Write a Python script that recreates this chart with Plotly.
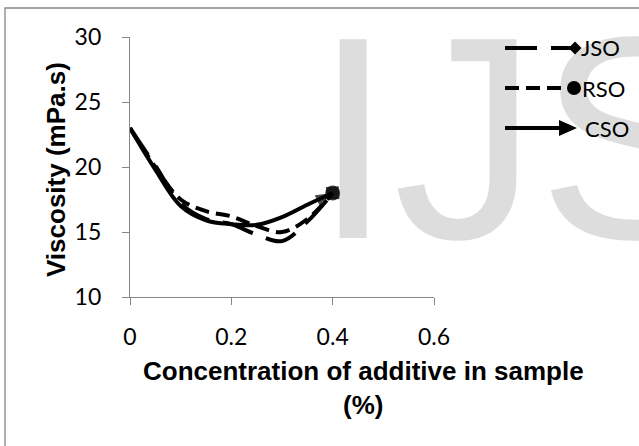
import plotly.graph_objects as go

# ---------------- data ----------------
conc = [0, 0.05, 0.1, 0.15, 0.2, 0.25, 0.3, 0.35, 0.4]
jso = [23.0, 20.1, 17.2, 16.0, 15.6, 14.8, 14.3, 15.8, 18.0]
rso = [23.0, 20.0, 17.5, 16.6, 16.2, 15.45, 15.0, 16.0, 18.0]
cso = [23.0, 19.8, 17.0, 15.9, 15.6, 15.55, 16.15, 17.1, 18.0]
series_names = ["JSO", "RSO", "CSO"]
x_tick_vals = [0, 0.2, 0.4, 0.6]
x_tick_text = ["0", "0.2", "0.4", "0.6"]
y_tick_vals = [10, 15, 20, 25, 30]
x_title = "Concentration of additive in sample<br>(%)"
y_title = "Viscosity (mPa.s)"
watermark = "IJS"

# ---------------- layout geometry (pixels) ----------------
W, H = 639, 446
PL, PR, PT, PB = 130, 434, 37, 297
XR = [0, 0.6]
YR = [10, 30]


def px_x(p):
    return (p - PL) / (PR - PL)


def px_y(p):
    return (PB - p) / (PB - PT)


def data_x(p):
    return XR[0] + (p - PL) / (PR - PL) * (XR[1] - XR[0])


def data_y(p):
    return YR[1] - (p - PT) / (PB - PT) * (YR[1] - YR[0])


AXIS_GREY = "#868686"
TICK_FONT = dict(family="Lato", size=23, color="black")
TITLE_FONT = dict(family="Liberation Sans", size=26, color="black")

fig = go.Figure()

# watermark (behind the data)
fig.add_trace(go.Scatter(
    x=[data_x(313)], y=[data_y(165.75)], mode="text", text=[watermark],
    textposition="middle right",
    textfont=dict(family="Liberation Sans", size=289, color="#dddddd"),
    marker=dict(size=0), cliponaxis=False, hoverinfo="skip", showlegend=False,
))

styles = {
    "JSO": dict(dash="32px,14px", symbol="diamond", size=14),
    "RSO": dict(dash="14px,7px", symbol="circle", size=15),
    "CSO": dict(dash="solid", symbol="arrow", size=18),
}
values = {"JSO": jso, "RSO": rso, "CSO": cso}

for name in series_names:
    st = styles[name]
    n = len(conc)
    fig.add_trace(go.Scatter(
        x=conc, y=values[name], name=name, mode="lines+markers",
        line=dict(color="black", width=4, dash=st["dash"], shape="spline", smoothing=1.0),
        marker=dict(color="black", symbol=st["symbol"], size=[0] * (n - 1) + [st["size"]],
                    angleref="previous", line=dict(width=0)),
        showlegend=False, cliponaxis=False,
    ))

shapes = []
annotations = []

# outer chart border (extends past right / bottom edge like the source)
shapes.append(dict(type="rect", xref="paper", yref="paper",
                   x0=px_x(5), x1=px_x(700), y0=px_y(8), y1=px_y(520),
                   line=dict(color=AXIS_GREY, width=1.3), layer="below"))

# custom legend
leg_y = {"JSO": 48, "RSO": 88, "CSO": 128}
LX0 = 505
# JSO
y0 = leg_y["JSO"]
shapes.append(dict(type="line", xref="paper", yref="paper", x0=px_x(LX0), x1=px_x(572),
                   y0=px_y(y0), y1=px_y(y0), line=dict(color="black", width=4, dash="32px,14px"),
                   layer="above"))
cx, r = 575, 6.5
shapes.append(dict(type="path", xref="paper", yref="paper", layer="above",
                   path=f"M {px_x(cx - r)},{px_y(y0)} L {px_x(cx)},{px_y(y0 - r)} "
                        f"L {px_x(cx + r)},{px_y(y0)} L {px_x(cx)},{px_y(y0 + r)} Z",
                   fillcolor="black", line=dict(color="black", width=0)))
# RSO
y0 = leg_y["RSO"]
shapes.append(dict(type="line", xref="paper", yref="paper", x0=px_x(LX0), x1=px_x(569),
                   y0=px_y(y0), y1=px_y(y0), line=dict(color="black", width=4, dash="14px,7px"),
                   layer="above"))
cx, r = 574, 7
shapes.append(dict(type="circle", xref="paper", yref="paper", layer="above",
                   x0=px_x(cx - r), x1=px_x(cx + r), y0=px_y(y0 + r), y1=px_y(y0 - r),
                   fillcolor="black", line=dict(color="black", width=0)))
# CSO
y0 = leg_y["CSO"]
shapes.append(dict(type="line", xref="paper", yref="paper", x0=px_x(LX0), x1=px_x(562),
                   y0=px_y(y0), y1=px_y(y0), line=dict(color="black", width=4),
                   layer="above"))
shapes.append(dict(type="path", xref="paper", yref="paper", layer="above",
                   path=f"M {px_x(559)},{px_y(y0 - 8)} L {px_x(577)},{px_y(y0)} "
                        f"L {px_x(559)},{px_y(y0 + 8)} Z",
                   fillcolor="black", line=dict(color="black", width=0)))

leg_text_x = {"JSO": 579, "RSO": 580, "CSO": 583}
for name in series_names:
    annotations.append(dict(text=name, xref="paper", yref="paper",
                            x=px_x(leg_text_x[name]), y=px_y(leg_y[name]),
                            xanchor="left", yanchor="middle", showarrow=False,
                            font=dict(family="Lato", size=22, color="black")))

# axis titles
annotations.append(dict(text=f"<b>{x_title.replace('<br>', '</b><br><b>')}</b>",
                        xref="paper", yref="paper", x=px_x(363.5), y=px_y(388),
                        xanchor="center", yanchor="middle", showarrow=False,
                        font=TITLE_FONT, align="center"))
annotations.append(dict(text=f"<b>{y_title}</b>", xref="paper", yref="paper",
                        x=px_x(56), y=px_y(170), textangle=-90,
                        xanchor="center", yanchor="middle", showarrow=False,
                        font=TITLE_FONT))

fig.update_layout(
    width=W, height=H,
    margin=dict(l=PL, r=W - PR, t=PT, b=H - PB, pad=0),
    paper_bgcolor="white", plot_bgcolor="white",
    showlegend=False,
    shapes=shapes, annotations=annotations,
    xaxis=dict(range=XR, tickvals=x_tick_vals, ticktext=x_tick_text,
               showgrid=False, zeroline=False, showline=True, linecolor=AXIS_GREY, linewidth=1.3,
               ticks="outside", ticklen=7, tickcolor=AXIS_GREY, tickwidth=1.3,
               tickfont=TICK_FONT, ticklabelstandoff=12, fixedrange=True),
    yaxis=dict(range=YR, tickvals=y_tick_vals,
               showgrid=False, zeroline=False, showline=True, linecolor=AXIS_GREY, linewidth=1.3,
               ticks="outside", ticklen=7, tickcolor=AXIS_GREY, tickwidth=1.3,
               tickfont=TICK_FONT, ticklabelstandoff=16, fixedrange=True),
)

fig.write_html("out.html")
